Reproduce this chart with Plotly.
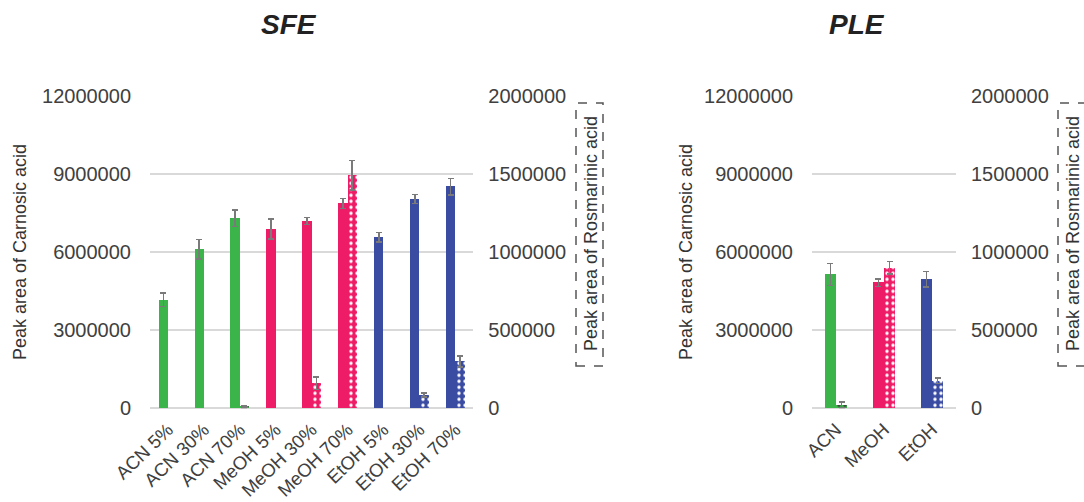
import plotly.graph_objects as go

W, H = 1084, 502

# ---------------- data ----------------
sfe_cats = ["ACN 5%", "ACN 30%", "ACN 70%", "MeOH 5%", "MeOH 30%", "MeOH 70%",
            "EtOH 5%", "EtOH 30%", "EtOH 70%"]
sfe_ca = [4170000, 6120000, 7310000, 6900000, 7200000, 7880000, 6580000, 8050000, 8520000]
sfe_ca_err = [260000, 380000, 320000, 380000, 140000, 190000, 190000, 180000, 320000]
sfe_ra = [None, None, 8000, None, 160000, 1495000, None, 85000, 300000]
sfe_ra_err = [0, 0, 6000, 0, 40000, 95000, 0, 12000, 36000]

ple_cats = ["ACN", "MeOH", "EtOH"]
ple_ca = [5140000, 4830000, 4960000]
ple_ca_err = [420000, 150000, 300000]
ple_ra = [22000, 900000, 176000]
ple_ra_err = [20000, 40000, 17000]

sfe_colors = ["#3bb54a"] * 3 + ["#ee1c66"] * 3 + ["#3a4ba2"] * 3
ple_colors = ["#3bb54a", "#ee1c66", "#3a4ba2"]

ca_ticks = [0, 3000000, 6000000, 9000000, 12000000]
ra_ticks = [0, 500000, 1000000, 1500000, 2000000]

# ---------------- helpers ----------------
def px_x(p):
    return p / W

def px_y(p):
    return 1 - p / H

FONT = "Liberation Sans, Arial, sans-serif"
TXT = "#404040"
ERR = "#7a7a7a"

fig = go.Figure()

def add_pair(cats, ca, ca_err, ra, ra_err, colors, xa, ya_l, ya_r, w):
    fig.add_trace(go.Bar(
        x=cats, y=ca, xaxis=xa, yaxis=ya_l, width=w, offset=-w,
        marker=dict(color=colors, line=dict(width=0)),
        error_y=dict(type="data", array=ca_err, color=ERR, thickness=1.5, width=3),
        showlegend=False))
    fig.add_trace(go.Bar(
        x=cats, y=ra, xaxis=xa, yaxis=ya_r, width=w, offset=0,
        marker=dict(color=colors, line=dict(width=0),
                    pattern=dict(shape=".", fgcolor="white", fgopacity=1,
                                 size=6, solidity=0.25, fillmode="overlay")),
        error_y=dict(type="data", array=ra_err, color=ERR, thickness=1.5, width=3),
        showlegend=False))

add_pair(sfe_cats, sfe_ca, sfe_ca_err, sfe_ra, sfe_ra_err, sfe_colors, "x", "y", "y2", 0.26)
add_pair(ple_cats, ple_ca, ple_ca_err, ple_ra, ple_ra_err, ple_colors, "x2", "y3", "y4", 0.235)

ydom = [px_y(408.3), px_y(96.3)]
tickfont = dict(family=FONT, size=20, color=TXT)

xcommon = dict(type="category", showgrid=False, zeroline=False, showline=False,
               automargin=False, ticks="", tickangle=-44, ticklabelstandoff=6,
               tickfont=dict(family=FONT, size=18.5, color=TXT))
ylcommon = dict(range=[0, 12000000], tickvals=ca_ticks, tickformat="d",
                showgrid=True, gridcolor="#d9d9d9", gridwidth=1.5,
                zeroline=True, zerolinecolor="#d9d9d9", zerolinewidth=1.5,
                showline=False, ticks="", ticklabelstandoff=18, tickfont=tickfont,
                automargin=False, domain=ydom)
yrcommon = dict(range=[0, 2000000], tickvals=ra_ticks, tickformat="d",
                showgrid=False, zeroline=False, showline=False, ticks="",
                automargin=False, ticklabelstandoff=14, tickfont=tickfont, side="right")

fig.update_layout(
    width=W, height=H,
    margin=dict(l=0, r=0, t=0, b=0),
    paper_bgcolor="white", plot_bgcolor="white",
    bargap=0,
    xaxis=dict(domain=[px_x(150), px_x(473.3)], anchor="y", **xcommon),
    xaxis2=dict(domain=[px_x(812), px_x(956)], anchor="y3", **xcommon),
    yaxis=dict(anchor="x", **ylcommon),
    yaxis2=dict(anchor="x", overlaying="y", **yrcommon),
    yaxis3=dict(anchor="x2", **ylcommon),
    yaxis4=dict(anchor="x2", overlaying="y3", **yrcommon),
)

ann = []
# panel titles
for txt, cx in [("SFE", 289), ("PLE", 857)]:
    ann.append(dict(text="<b><i>" + txt + "</i></b>", x=px_x(cx), y=px_y(25),
                    xref="paper", yref="paper", showarrow=False,
                    xanchor="center", yanchor="middle",
                    font=dict(family=FONT, size=28, color="#222222")))
# axis titles
for cx in [20, 686]:
    ann.append(dict(text="Peak area of Carnosic acid", x=px_x(cx), y=px_y(252),
                    xref="paper", yref="paper", showarrow=False, textangle=-90,
                    xanchor="center", yanchor="middle",
                    font=dict(family=FONT, size=18, color="#333333")))
shapes = []
for cx in [591, 1073]:
    ann.append(dict(text="Peak area of Rosmarinic acid", x=px_x(cx), y=px_y(234),
                    xref="paper", yref="paper", showarrow=False, textangle=-90,
                    xanchor="center", yanchor="middle",
                    font=dict(family=FONT, size=18, color="#333333")))
    shapes.append(dict(type="rect", xref="paper", yref="paper",
                       x0=px_x(cx - 15), x1=px_x(cx + 12),
                       y0=px_y(366), y1=px_y(103),
                       line=dict(color="#555555", width=1.5, dash="dash"),
                       fillcolor="rgba(0,0,0,0)"))

fig.update_layout(annotations=ann, shapes=shapes)

fig.write_html("out.html", config={"displayModeBar": False},
               post_script="document.body.style.margin='0px';")
